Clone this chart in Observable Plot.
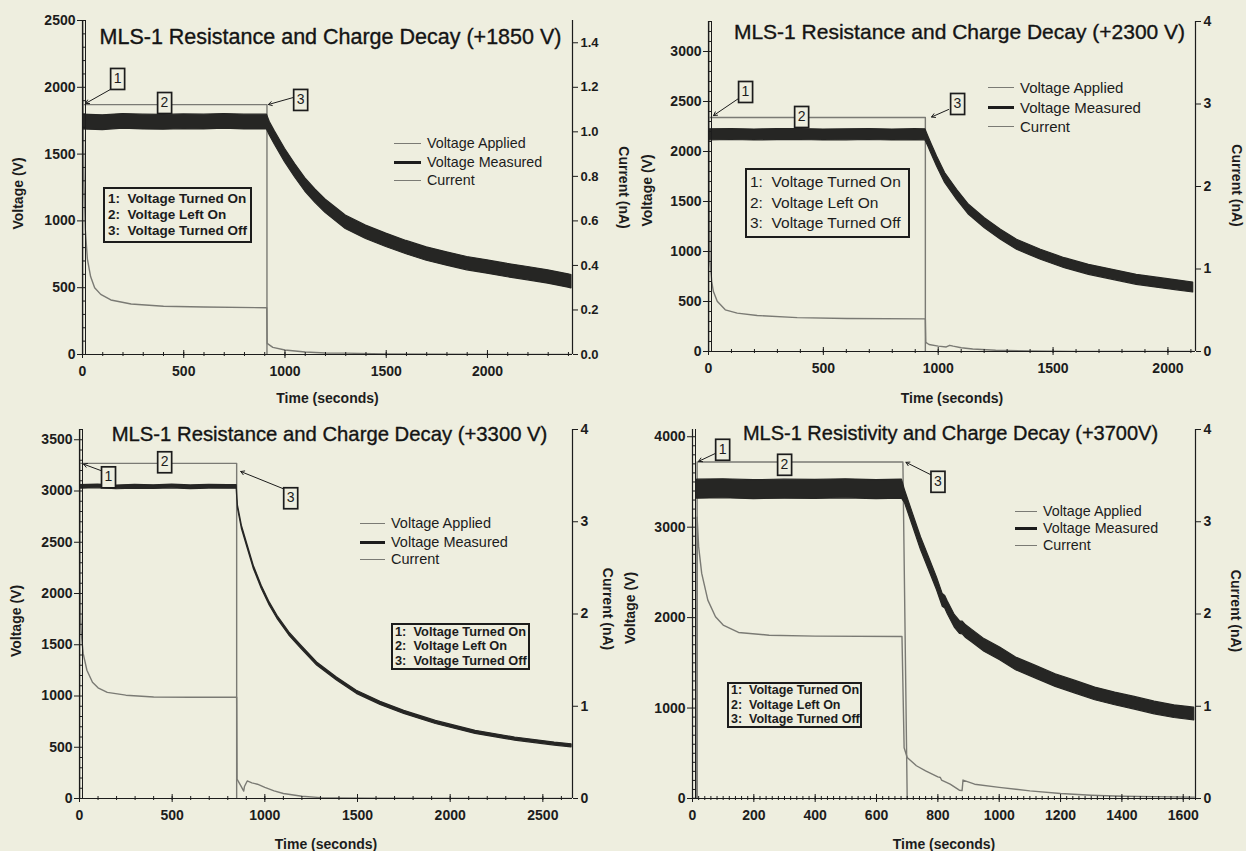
<!DOCTYPE html>
<html>
<head>
<meta charset="utf-8">
<script src="https://cdn.jsdelivr.net/npm/d3@7"></script>
<script src="https://cdn.jsdelivr.net/npm/@observablehq/plot@0.6"></script>
<style>
  html, body { margin: 0; padding: 0; background: #eeeedf; }
  #page { position: relative; width: 1246px; height: 851px; overflow: hidden;
          font-family: "Liberation Sans", Arial, Helvetica, sans-serif; color: #1c1c1c; }
  .panel { position: absolute; }
  .panel svg { overflow: visible; background: transparent !important; max-width: none !important; display: block; }
</style>
</head>
<body>
<div id="page"></div>
<script>
// ---------------- shared text ----------------
const legendLabels = ["Voltage Applied", "Voltage Measured", "Current"];
const noteLines = ["1:  Voltage Turned On", "2:  Voltage Left On", "3:  Voltage Turned Off"];
const timeLabel = "Time (seconds)";
const voltLabel = "Voltage (V)";
const currLabel = "Current (nA)";

// ---------------- Panel 1 (+1850 V) ----------------
const p1Title = "MLS-1 Resistance and Charge Decay (+1850 V)";
const p1Applied = [[0, 0], [0, 1870], [911, 1870], [911, 0]];
// [time s, centre V, half-spread V]
const p1Measured = [[0,1740,55],[100,1735,55],[200,1745,55],[300,1740,55],[400,1738,55],[500,1742,55],[600,1740,55],[700,1745,55],[800,1740,55],[911,1740,55],
  [925,1690,50],[950,1620,50],[975,1555,50],[1000,1490,50],[1050,1375,50],[1100,1270,50],[1150,1185,50],[1200,1110,50],[1300,990,50],[1400,915,50],
  [1500,855,50],[1600,800,50],[1700,752,50],[1800,715,50],[1900,680,50],[2000,655,50],[2100,628,50],[2200,605,50],[2300,580,50],[2400,550,50],[2415,545,50]];
// [time s, current nA]
const p1Current = [[0,0],[1,1.6],[4,1.0],[8,0.75],[14,0.56],[24,0.43],[40,0.35],[60,0.30],[90,0.27],[140,0.245],[240,0.227],[400,0.217],[600,0.213],[910,0.21],
  [912,0.05],[940,0.032],[1000,0.02],[1100,0.011],[1200,0.007],[1300,0.006],[1500,0.003],[1800,0.001],[2415,0]];
const p1VoltTicks = [0, 500, 1000, 1500, 2000, 2500];
const p1CurrTicks = [0, 0.2, 0.4, 0.6, 0.8, 1.0, 1.2, 1.4];
const p1TimeTicks = [0, 500, 1000, 1500, 2000];
const p1Callouts = [
  {n: "1", t: 173, v: 2066, from: [138, 1984], to: [15, 1879]},
  {n: "2", t: 405, v: 1886},
  {n: "3", t: 1077, v: 1909, from: [1042, 1924], to: [918, 1871]}
];

// ---------------- Panel 2 (+2300 V) ----------------
const p2Title = "MLS-1 Resistance and Charge Decay (+2300 V)";
const p2Applied = [[0, 0], [0, 2340], [944, 2340], [944, 0]];
const p2Measured = [[0,2167,55],[100,2170,55],[200,2165,55],[300,2168,55],[400,2170,55],[500,2165,55],[600,2167,55],[700,2170,55],[800,2165,55],[900,2168,55],[944,2167,55],
  [957,2100,50],[970,2030,50],[995,1900,50],[1030,1735,50],[1082,1567,50],[1134,1417,50],[1203,1283,50],[1273,1167,50],[1343,1067,50],[1447,967,50],
  [1551,883,50],[1656,817,50],[1760,767,50],[1864,717,50],[1969,683,50],[2040,662,50],[2110,640,50]];
const p2Current = [[0,0],[1,4.3],[3,1.8],[7,1.09],[14,0.85],[21,0.73],[38,0.61],[73,0.505],[125,0.465],[212,0.436],[386,0.41],[600,0.40],[944,0.396],
  [946,0.11],[960,0.085],[1000,0.065],[1035,0.055],[1050,0.075],[1065,0.065],[1100,0.045],[1150,0.03],[1250,0.015],[1400,0.006],[1600,0.002],[2110,0]];
const p2VoltTicks = [0, 500, 1000, 1500, 2000, 2500, 3000];
const p2CurrTicks = [0, 1, 2, 3, 4];
const p2TimeTicks = [0, 500, 1000, 1500, 2000];
const p2Callouts = [
  {n: "1", t: 161, v: 2600, from: [131, 2530], to: [22, 2360]},
  {n: "2", t: 405, v: 2350},
  {n: "3", t: 1084, v: 2480, from: [1045, 2420], to: [971, 2345]}
];

// ---------------- Panel 3 (+3300 V) ----------------
const p3Title = "MLS-1 Resistance and Charge Decay (+3300 V)";
const p3Applied = [[0, 0], [0, 3270], [848, 3270], [848, 0]];
const p3Measured = [[0,3040,18],[100,3045,18],[200,3035,18],[300,3042,18],[400,3038,18],[500,3044,18],[600,3036,18],[700,3042,18],[800,3040,18],[848,3040,18],
  [851,2950,15],[855,2843,15],[876,2647,15],[908,2452,15],[940,2257,15],[983,2061,15],[1026,1898,15],[1068,1768,15],[1132,1605,15],[1197,1475,15],
  [1282,1312,15],[1389,1166,15],[1496,1036,15],[1624,928,15],[1752,840,15],[1923,742,15],[2137,645,15],[2350,580,15],[2564,531,15],[2655,514,15]];
const p3Current = [[0,0],[1,4.2],[3,2.5],[6,2.0],[10,1.78],[20,1.57],[40,1.39],[70,1.26],[100,1.2],[150,1.15],[250,1.12],[400,1.10],[600,1.098],[848,1.097],
  [850,0.21],[870,0.14],[886,0.08],[890,0.13],[905,0.19],[930,0.17],[960,0.155],[1000,0.12],[1050,0.083],[1100,0.054],[1200,0.025],[1300,0.01],[1400,0.005],[1600,0.002],[2655,0]];
const p3VoltTicks = [0, 500, 1000, 1500, 2000, 2500, 3000, 3500];
const p3CurrTicks = [0, 1, 2, 3, 4];
const p3TimeTicks = [0, 500, 1000, 1500, 2000, 2500];
const p3Callouts = [
  {n: "1", t: 156, v: 3138, from: [119, 3197], to: [22, 3262]},
  {n: "2", t: 459, v: 3285},
  {n: "3", t: 1139, v: 2934, from: [1101, 3021], to: [870, 3190]}
];

// ---------------- Panel 4 (+3700 V) ----------------
const p4Title = "MLS-1 Resistivity and Charge Decay (+3700V)";
const p4Applied = [[0, 0], [15, 0], [15, 3720], [686, 3720], [700, 0]];
const p4Measured = [[15,3420,105],[100,3425,105],[200,3415,105],[300,3420,105],[400,3418,105],[500,3424,105],[600,3416,105],[683,3420,105],
  [693,3335,70],[719,3077,70],[745,2818,70],[771,2597,70],[797,2375,70],[816,2190,70],[824,2170,70],[832,2110,70],[855,1960,70],[872,1890,70],
  [881,1885,70],[892,1845,70],[910,1800,70],[952,1692,70],[1003,1599,70],[1055,1488,70],[1120,1396,70],[1184,1304,70],[1249,1230,70],
  [1313,1156,70],[1378,1101,70],[1442,1053,70],[1507,1001,70],[1571,960,70],[1636,934,70]];
const p4Current = [[0,0],[14,0],[15,3.05],[20,2.73],[30,2.44],[50,2.15],[75,1.97],[100,1.88],[150,1.80],[250,1.77],[400,1.76],[683,1.756],
  [690,0.55],[700,0.445],[730,0.355],[760,0.30],[800,0.235],[808,0.228],[812,0.2],[840,0.155],[870,0.09],[879,0.085],[882,0.2],[920,0.155],
  [1000,0.12],[1100,0.083],[1200,0.054],[1300,0.036],[1400,0.025],[1500,0.02],[1636,0.015]];
const p4VoltTicks = [0, 1000, 2000, 3000, 4000];
const p4CurrTicks = [0, 1, 2, 3, 4];
const p4TimeTicks = [0, 200, 400, 600, 800, 1000, 1200, 1400, 1600];
const p4Callouts = [
  {n: "1", t: 98, v: 3861, from: [75, 3816], to: [20, 3728]},
  {n: "2", t: 300, v: 3695},
  {n: "3", t: 800, v: 3507, from: [781, 3573], to: [696, 3717]}
];

// ---------------- styling / layout ----------------
const BG = "#eeeedf";
const INK = "#1c1c1c";
const BOXINK = "#1c1c1d";   // unique colour used to find the callout labels
const GREY = "#7a7a74";
const FONT = '"Liberation Sans", Arial, Helvetica, sans-serif';

const panels = [
  {left: 0, top: 0, w: 623, h: 420, mL: 82, mR: 51, mT: 20, mB: 66, T: 2420, Vtop: 2500, Imax: 1.5, xMinor: 100,
   title: p1Title, applied: p1Applied, measured: p1Measured, current: p1Current,
   vTicks: p1VoltTicks, iTicks: p1CurrTicks, tTicks: p1TimeTicks, iFmt: d3.format(".1f"), iFs: 13,
   callouts: p1Callouts, titleFs: 21.5, titleDx: 3, titleDy: 17, timeDy: 44, vDx: -64, vDy: 6, cDx: 51, cDy: 0,
   legend: {x: 394, tx: 427, ys: [143, 162, 180], fs: 14.3},
   note: {x: 103, y: 187, w: 149, h: 56, fs: 13.5, fw: "bold", lh: 16, pad: 3}},
  {left: 623, top: 0, w: 623, h: 420, mL: 85, mR: 51, mT: 21, mB: 69, T: 2120, Vtop: 3300, Imax: 4, xMinor: 100,
   title: p2Title, applied: p2Applied, measured: p2Measured, current: p2Current,
   vTicks: p2VoltTicks, iTicks: p2CurrTicks, tTicks: p2TimeTicks, iFmt: v => String(Math.round(v)), iFs: 14,
   callouts: p2Callouts, titleFs: 21, titleDx: 7.5, titleDy: 11, timeDy: 47, vDx: -61, vDy: 4, cDx: 41, cDy: -1,
   legend: {x: 988, tx: 1020, ys: [87, 107, 126], fs: 15},
   note: {x: 745, y: 168, w: 165, h: 70, fs: 15.5, fw: "normal", lh: 20.5, pad: 3}},
  {left: 0, top: 420, w: 623, h: 431, mL: 79, mR: 51, mT: 9, mB: 53, T: 2660, Vtop: 3600, Imax: 4, xMinor: 100,
   title: p3Title, applied: p3Applied, measured: p3Measured, current: p3Current,
   vTicks: p3VoltTicks, iTicks: p3CurrTicks, tTicks: p3TimeTicks, iFmt: v => String(Math.round(v)), iFs: 14,
   callouts: p3Callouts, titleFs: 20.3, titleDx: 3.5, titleDy: 5, timeDy: 46, vDx: -63, vDy: 7, cDx: 35, cDy: -5,
   legend: {x: 360, tx: 391, ys: [523, 542, 559], fs: 14.5},
   note: {x: 391, y: 623, w: 139, h: 47, fs: 12.8, fw: "bold", lh: 14.5, pad: 2}},
  {left: 623, top: 420, w: 623, h: 431, mL: 69, mR: 51, mT: 9, mB: 53, T: 1640, Vtop: 4080, Imax: 4, xMinor: 20,
   title: p4Title, applied: p4Applied, measured: p4Measured, current: p4Current,
   vTicks: p4VoltTicks, iTicks: p4CurrTicks, tTicks: p4TimeTicks, iFmt: v => String(Math.round(v)), iFs: 14,
   callouts: p4Callouts, titleFs: 20, titleDx: 6.5, titleDy: 4, timeDy: 46, vDx: -62, vDy: -6, cDx: 40, cDy: -3,
   legend: {x: 1015, tx: 1043, ys: [511, 528, 545], fs: 14.3},
   note: {x: 727, y: 682, w: 135, h: 46, fs: 12.5, fw: "bold", lh: 14.5, pad: 2}}
];

const page = document.getElementById("page");

function buildPanel(P) {
  const k = P.Vtop / P.Imax;
  const applied = P.applied.map(([t, v]) => ({t, v}));
  const measured = P.measured.map(([t, v, h]) => ({t, lo: v - h, hi: v + h}));
  const current = P.current.map(([t, i]) => ({t, y: i * k}));
  const arrows = P.callouts.filter(c => c.from);
  const vMinor = d3.range(0, P.Vtop + 1, 100);
  const tMinor = d3.range(0, P.T + 1, P.xMinor);

  const plot = Plot.plot({
    width: P.w, height: P.h,
    marginLeft: P.mL, marginRight: P.mR, marginTop: P.mT, marginBottom: P.mB,
    x: {domain: [0, P.T]},
    y: {domain: [0, P.Vtop]},
    style: {background: "transparent", fontFamily: FONT, fontSize: "14px", color: INK, overflow: "visible"},
    marks: [
      // data series
      Plot.line(current, {x: "t", y: "y", stroke: GREY, strokeWidth: 1.4, clip: true}),
      Plot.line(applied, {x: "t", y: "v", stroke: GREY, strokeWidth: 1.4, clip: true}),
      Plot.areaY(measured, {x: "t", y1: "lo", y2: "hi", fill: "#262624", stroke: "#262624", strokeWidth: 1.2,
                            strokeLinejoin: "round", clip: true}),
      // axis lines (Origin-style ladder on the left)
      Plot.ruleX([0], {stroke: INK, strokeWidth: 1.2}),
      Plot.ruleX([0], {stroke: INK, strokeWidth: 1, dx: 3}),
      Plot.ruleX([P.T], {stroke: INK, strokeWidth: 1.2}),
      Plot.ruleY([0], {stroke: INK, strokeWidth: 1.2}),
      Plot.axisY({anchor: "left", ticks: vMinor, tickSize: 3, dx: 3, tickFormat: () => "", label: null}),
      Plot.axisY({anchor: "left", ticks: P.vTicks, tickSize: 5, tickPadding: 2, tickFormat: d => String(d),
                  fontSize: 14, fontWeight: "bold", label: null}),
      Plot.axisY({anchor: "right", ticks: P.iTicks.map(i => i * k), tickSize: 5, tickPadding: 3,
                  tickFormat: v => P.iFmt(v / k), fontSize: P.iFs, fontWeight: "bold", label: null}),
      Plot.axisX({anchor: "bottom", ticks: tMinor, tickSize: 4, dy: -2, tickFormat: () => "", label: null}),
      Plot.axisX({anchor: "bottom", ticks: P.tTicks, tickSize: 8, dy: -4, tickFormat: () => "", label: null}),
      Plot.axisX({anchor: "bottom", ticks: P.tTicks, tickSize: 0, tickPadding: 12, tickFormat: d => String(d),
                  fontSize: 14, fontWeight: "bold", label: null}),
      // axis titles
      Plot.text([timeLabel], {text: d => d, frameAnchor: "bottom", textAnchor: "middle", lineAnchor: "middle",
                              dy: P.timeDy, fontSize: 14, fontWeight: "bold", fill: INK}),
      Plot.text([voltLabel], {text: d => d, frameAnchor: "left", textAnchor: "middle", lineAnchor: "middle",
                              rotate: -90, dx: P.vDx, dy: P.vDy, fontSize: 14, fontWeight: "bold", fill: INK}),
      Plot.text([currLabel], {text: d => d, frameAnchor: "right", textAnchor: "middle", lineAnchor: "middle",
                              rotate: 90, dx: P.cDx, dy: P.cDy, fontSize: 14, fontWeight: "bold", fill: INK}),
      // chart title
      Plot.text([P.title], {text: d => d, frameAnchor: "top", textAnchor: "middle", lineAnchor: "middle",
                            dx: P.titleDx, dy: P.titleDy, fontSize: P.titleFs, fill: "#141414", stroke: "#141414", strokeWidth: 0.35}),
      // callout arrows and numbered boxes
      Plot.arrow(arrows, {x1: c => c.from[0], y1: c => c.from[1], x2: c => c.to[0], y2: c => c.to[1],
                          stroke: INK, strokeWidth: 1, headLength: 6}),
      Plot.text(P.callouts, {x: "t", y: "v", text: "n", fontSize: 14, fill: BOXINK, ariaDescription: "numbox"})
    ]
  });

  const holder = document.createElement("div");
  holder.className = "panel";
  holder.style.left = P.left + "px";
  holder.style.top = P.top + "px";
  holder.style.width = P.w + "px";
  holder.style.height = P.h + "px";
  holder.appendChild(plot);
  page.appendChild(holder);

  // frame the numbered callouts with a box
  const texts = [];
  plot.querySelectorAll("g").forEach(g => {
    const f = (g.getAttribute("fill") || "").toLowerCase();
    if (f === BOXINK || g.getAttribute("aria-description") === "numbox") {
      g.querySelectorAll("text").forEach(t => { if (!texts.includes(t)) texts.push(t); });
    }
  });
  texts.forEach(t => {
    const b = t.getBBox();
    const r = document.createElementNS("http://www.w3.org/2000/svg", "rect");
    r.setAttribute("x", b.x - 3);
    r.setAttribute("y", b.y - 1.5);
    r.setAttribute("width", b.width + 6);
    r.setAttribute("height", b.height + 5);
    r.setAttribute("fill", BG);
    r.setAttribute("stroke", INK);
    r.setAttribute("stroke-width", 1.7);
    const tr = t.getAttribute("transform");
    if (tr) r.setAttribute("transform", tr);
    t.parentNode.insertBefore(r, t);
  });

  // series legend
  const L = P.legend;
  const sw = [[GREY, 1.4], [INK, 3], [GREY, 1.4]];
  legendLabels.forEach((lab, i) => {
    const row = document.createElement("div");
    row.style.cssText = `position:absolute;left:${L.x}px;top:${L.ys[i] - 10}px;height:20px;display:flex;align-items:center;` +
                        `font-size:${L.fs}px;white-space:nowrap;`;
    const s = document.createElement("span");
    s.style.cssText = `display:inline-block;width:${L.tx - L.x - 6}px;height:0;border-top:${sw[i][1]}px solid ${sw[i][0]};margin-right:6px;`;
    row.appendChild(s);
    row.appendChild(document.createTextNode(lab));
    page.appendChild(row);
  });

  // annotation key box
  const N = P.note;
  const box = document.createElement("div");
  box.style.cssText = `position:absolute;left:${N.x}px;top:${N.y}px;width:${N.w}px;height:${N.h}px;border:2px solid ${INK};` +
                      `box-sizing:border-box;background:${BG};display:flex;flex-direction:column;justify-content:center;` +
                      `padding-left:${N.pad}px;font-size:${N.fs}px;font-weight:${N.fw};line-height:${N.lh}px;white-space:pre;`;
  noteLines.forEach(s => {
    const r = document.createElement("div");
    r.textContent = s;
    box.appendChild(r);
  });
  page.appendChild(box);
}

panels.forEach(buildPanel);
</script>
</body>
</html>
